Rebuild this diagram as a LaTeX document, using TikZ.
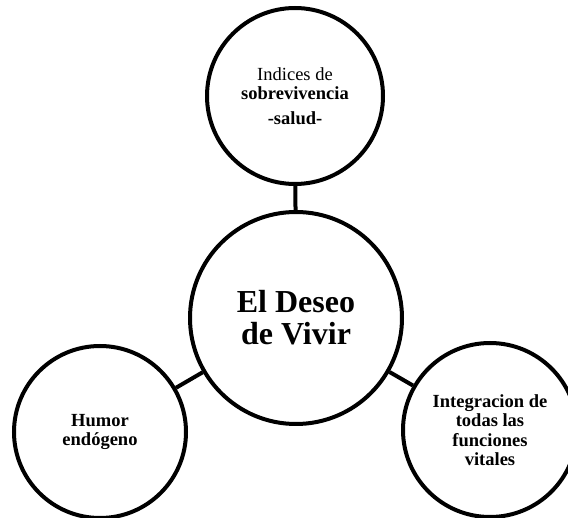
\documentclass[tikz,border=0pt]{standalone}
\usepackage{fontspec}
\setmainfont{Liberation Serif}
\begin{document}
\begin{tikzpicture}[x=1pt,y=-1pt,
    bubble/.style={draw, circle, line width=4pt, inner sep=0pt, align=center,
      font=\fontsize{18.5}{19.5}\selectfont\bfseries}]
      \useasboundingbox (0,0) rectangle (568,518);
      \draw
        (296,318) node[bubble, minimum size=212pt,
          font=\fontsize{32}{32}\selectfont\bfseries] (deseo){El Deseo\\de Vivir}
        (295,96) node[bubble, minimum size=176pt] (salud){{\mdseries Indices de}\\sobrevivencia\\[5pt]-salud-}
        (100,432) node[bubble, minimum size=172pt] (humor){Humor\\endógeno}
        (490,430) node[bubble, minimum size=174pt] (vital){Integracion de\\todas las\\funciones\\vitales};
      \begin{scope}[-, line width=4pt]
        \draw (deseo) to (salud);
        \draw (deseo) to (humor);
        \draw (deseo) to (vital);
      \end{scope}
    \end{tikzpicture}
\end{document}
